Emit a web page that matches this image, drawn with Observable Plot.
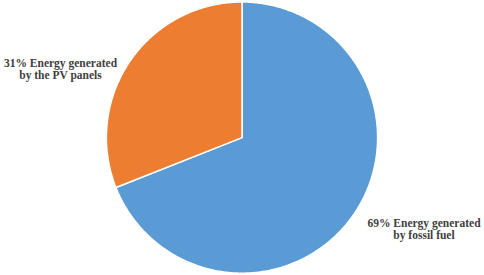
<!DOCTYPE html>
<html>
<head>
<meta charset="utf-8">
<script src="https://cdn.jsdelivr.net/npm/d3@7"></script>
<script src="https://cdn.jsdelivr.net/npm/@observablehq/plot@0.6"></script>
<style>
  html, body { margin: 0; padding: 0; background: #fff; }
</style>
</head>
<body>
<div id="chart"></div>
<script>
// Data
const categories = ["Energy generated by fossil fuel", "Energy generated by the PV panels"];
const shares = [69, 31];
const colors = ["#5B9BD5", "#ED7D31"];
const labels = ["69% Energy generated\nby fossil fuel", "31% Energy generated\nby the PV panels"];

// Layout
const W = 484, H = 275;
const cx = 241.5, cy = 137.1, r = 135.6;

// Build slice outlines from the shares (angles clockwise from 12 o'clock)
const pie = d3.pie().sort(null).value(d => d)(shares);
const polyRows = [];
pie.forEach((p, i) => {
  const a0 = p.startAngle, a1 = p.endAngle;
  polyRows.push({cat: categories[i], px: cx, py: cy});
  const n = Math.max(2, Math.ceil((a1 - a0) / 0.01));
  for (let j = 0; j <= n; j++) {
    const a = a0 + (a1 - a0) * j / n;
    polyRows.push({cat: categories[i], px: cx + r * Math.sin(a), py: cy - r * Math.cos(a)});
  }
});

const labelRows = [
  {text: labels[1], lx: 60, ly: 68.5},
  {text: labels[0], lx: 423.5, ly: 228.5}
];

const chart = Plot.plot({
  width: W,
  height: H,
  margin: 0,
  x: {domain: [0, W], range: [0, W], axis: null},
  y: {domain: [0, H], range: [0, H], axis: null},
  color: {domain: categories, range: colors},
  marks: [
    Plot.line(polyRows, {
      x: "px", y: "py", z: "cat",
      fill: "cat", stroke: "white", strokeWidth: 1.5,
      curve: "linear-closed"
    }),
    Plot.text(labelRows, {
      x: "lx", y: "ly", text: "text",
      fontFamily: "'Liberation Serif', 'Times New Roman', serif",
      fontWeight: "bold", fontSize: 11.5, lineHeight: 1.02,
      fill: "#404040", textAnchor: "middle"
    })
  ]
});
document.getElementById("chart").appendChild(chart);
</script>
</body>
</html>
